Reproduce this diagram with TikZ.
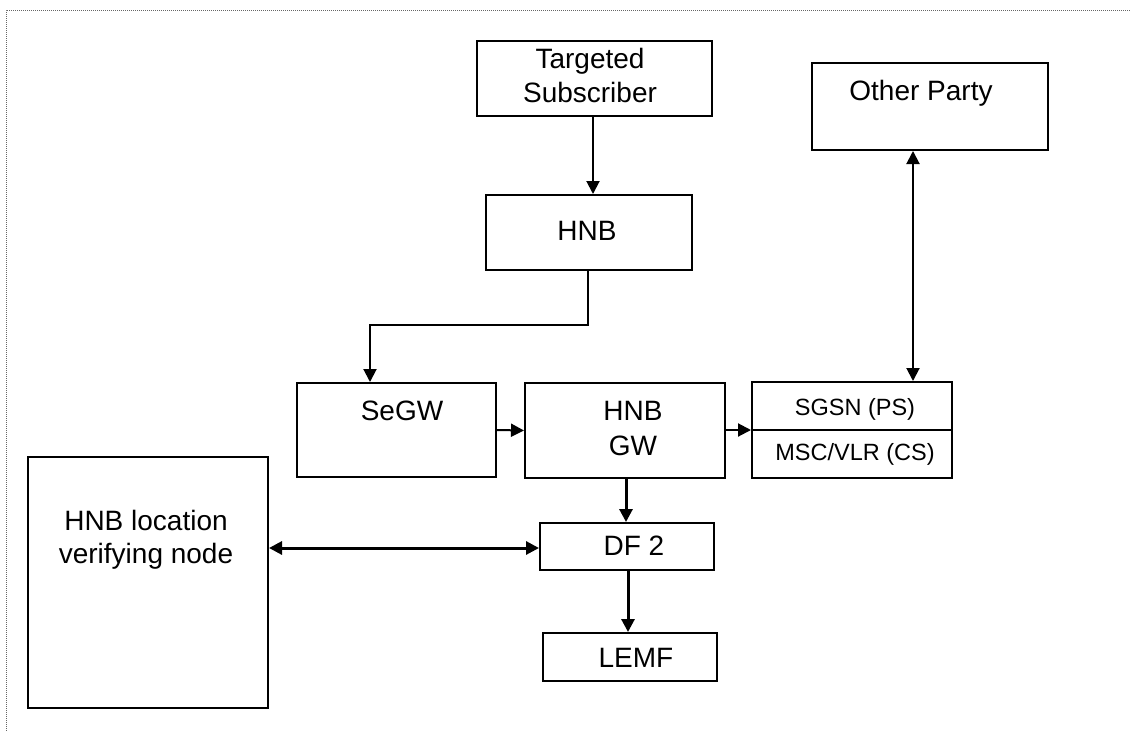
\documentclass[tikz,border=0pt]{standalone}
\usepackage{fontspec}
\setmainfont{Liberation Sans}
\usetikzlibrary{arrows.meta}
\begin{document}
\begin{tikzpicture}[x=1pt,y=-1pt,
  box/.style={draw,line width=2pt,inner sep=0pt},
  lbl/.style={anchor=base,inner sep=0pt,font=\fontsize{28}{34}\selectfont},
  lbls/.style={anchor=base,inner sep=0pt,font=\fontsize{23.5}{28}\selectfont},
  arr/.style={line width=2pt,-{Triangle[length=13pt,width=13pt]}},
  tharr/.style={line width=3pt,-{Triangle[length=13pt,width=13pt]}},
  darr/.style={line width=2pt,{Triangle[length=13pt,width=13pt]}-{Triangle[length=13pt,width=13pt]}},
  thdarr/.style={line width=3pt,{Triangle[length=13pt,width=13pt]}-{Triangle[length=13pt,width=13pt]}},
  frame/.style={draw=gray!80!black,line width=1pt,dash pattern=on 1pt off 1pt}
]
\useasboundingbox (0,0) rectangle (1130,731);
\fill[white] (0,0) rectangle (1130,731);
\draw[frame] (6,731) -- (6,10) -- (1130,10);

% boxes
\node[box,minimum width=235pt,minimum height=75pt] (ts) at (594.5,78.5) {};
\node[box,minimum width=236pt,minimum height=87pt] (op) at (930,106.5) {};
\node[box,minimum width=206pt,minimum height=75pt] (hnb) at (589,232.5) {};
\node[box,minimum width=199pt,minimum height=94pt] (segw) at (396.5,430) {};
\node[box,minimum width=200pt,minimum height=95pt] (gw) at (625,430.5) {};
\node[box,minimum width=200pt,minimum height=96pt] (sgsn) at (852,430) {};
\node[box,minimum width=240pt,minimum height=251pt] (loc) at (148,582.5) {};
\node[box,minimum width=174pt,minimum height=47pt] (df) at (627,546.5) {};
\node[box,minimum width=174pt,minimum height=48pt] (lemf) at (630,657) {};
\draw[line width=2pt] (sgsn.west |- 0,430) -- (sgsn.east |- 0,430);

% texts
\node[lbl] (tsa) at (590,68) {Targeted};
\node[lbl] (tsb) at (590,102) {Subscriber};
\node[lbl] (opt) at (921,100) {Other Party};
\node[lbl] (hnbt) at (587,240) {HNB};
\node[lbl] (segwt) at (402,420) {SeGW};
\node[lbl] (gwa) at (633,420) {HNB};
\node[lbl] (gwb) at (633,455) {GW};
\node[lbls] (sgsnt) at (855,415) {SGSN (PS)};
\node[lbls] (msct) at (855,460) {MSC/VLR (CS)};
\node[lbl] (loca) at (146,530) {HNB location};
\node[lbl] (locb) at (146,563) {verifying node};
\node[lbl] (dft) at (634,555) {DF 2};
\node[lbl] (lemft) at (636,667) {LEMF};

% connectors
\coordinate (bend) at (370,325);
\draw[arr] (ts.south -| 593,0) -- (hnb.north -| 593,0);
\draw[arr] (hnb.south -| 588,0) |- (bend) -- (segw.north -| bend);
\draw[arr] (segw.east) -- (gw.west);
\draw[arr] (gw.east |- 0,430) -- (sgsn.west |- 0,430);
\draw[darr] (op.south -| 913,0) -- (sgsn.north -| 913,0);
\draw[tharr] (gw.south -| 626,0) -- (df.north -| 626,0);
\draw[thdarr] (loc.east |- 0,548) -- (df.west |- 0,548);
\draw[tharr] (df.south -| 628,0) -- (lemf.north -| 628,0);
\end{tikzpicture}
\end{document}
